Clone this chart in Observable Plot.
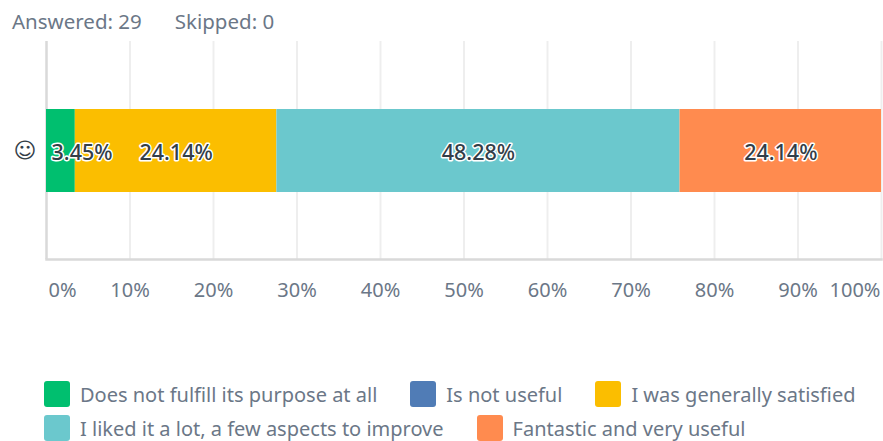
<!DOCTYPE html>
<html>
<head>
<meta charset="utf-8">
<script src="https://cdn.jsdelivr.net/npm/d3@7"></script>
<script src="https://cdn.jsdelivr.net/npm/@observablehq/plot@0.6"></script>
<style>
  html, body { margin: 0; padding: 0; background: #fff; overflow: hidden; }
  body { width: 883px; height: 441px; font-family: "Noto Sans", sans-serif; color: #6b7787; }
  #summary { height: 39px; box-sizing: border-box; padding: 8px 0 0 12px; font-size: 20.5px; line-height: 26px; display: flex; gap: 33px; }
  #chart svg { display: block; }
  #legend { margin: 38px 0 0 44px; width: 839px; display: flex; flex-wrap: wrap; column-gap: 33px; font-size: 20px; }
  .entry { display: flex; align-items: center; height: 34px; gap: 10px; white-space: nowrap; }
  .swatch { width: 26px; height: 26px; border-radius: 3px; }
</style>
</head>
<body>
<div id="summary"></div>
<div id="chart"></div>
<div id="legend"></div>
<script>
const summary = ["Answered: 29", "Skipped: 0"];
const question = "☺";
const categories = [
  "Does not fulfill its purpose at all",
  "Is not useful",
  "I was generally satisfied",
  "I liked it a lot, a few aspects to improve",
  "Fantastic and very useful"
];
const percents = [3.45, 0, 24.14, 48.28, 24.14];
const colors = ["#00bf6f", "#507cb6", "#fbbe00", "#6bc8cd", "#ff8b4f"];
const innerTicks = [10, 20, 30, 40, 50, 60, 70, 80, 90];

const rows = categories.map((category, i) => ({category, value: percents[i], question}));
const fontFamily = '"Noto Sans", sans-serif';
const pct = (d) => `${d}%`;
const ink = "#333e48";
const tickInk = "#6b7787";

// Cumulative starts, so each label can sit inside its own segment
let running = 0;
const labelled = rows.map((d) => {
  const start = running;
  running += d.value;
  return {...d, start, mid: start + d.value / 2};
}).filter((d) => d.value > 0);

const labelStyle = {
  text: (d) => `${d.value.toFixed(2)}%`,
  y: "question",
  dy: 2,
  fill: ink,
  stroke: "white",
  strokeWidth: 3,
  paintOrder: "stroke",
  fontSize: 21.5,
  fontWeight: 500
};

const edgeAxis = {anchor: "bottom", tickSize: 0, tickPadding: 23, fontSize: 20, color: tickInk, tickFormat: pct, label: null};

const plot = Plot.plot({
  width: 883,
  height: 300,
  marginLeft: 46,
  marginRight: 2,
  marginTop: 2,
  marginBottom: 80,
  style: {fontFamily, background: "transparent", overflow: "visible"},
  x: {domain: [0, 100], clamp: true},
  y: {domain: [question], padding: 0.449},
  color: {domain: categories, range: colors},
  marks: [
    Plot.ruleX(innerTicks.concat(100), {stroke: "#eeeeee", strokeWidth: 2, strokeOpacity: 1}),
    Plot.ruleX([0], {stroke: "#d9d9d9", strokeWidth: 2.5}),
    Plot.frame({anchor: "bottom", stroke: "#d9d9d9", strokeWidth: 2.5}),
    Plot.axisY({tickSize: 0, tickPadding: 10, fontSize: 22, color: ink, fontFamily: "DejaVu Sans", label: null}),
    Plot.axisX({...edgeAxis, ticks: innerTicks}),
    Plot.axisX({...edgeAxis, ticks: [0], textAnchor: "start", dx: 2}),
    Plot.axisX({...edgeAxis, ticks: [100], textAnchor: "end", dx: -1}),
    Plot.barX(rows, {x: "value", y: "question", fill: "category", order: null}),
    Plot.text(labelled.filter((d) => d.value >= 5), {...labelStyle, x: "mid"}),
    Plot.text(labelled.filter((d) => d.value < 5), {...labelStyle, x: "start", textAnchor: "start", dx: 5})
  ]
});
document.getElementById("chart").append(plot);

d3.select("#summary").selectAll("span").data(summary).join("span").text((d) => d);

const entries = d3.select("#legend").selectAll("div").data(categories).join("div").attr("class", "entry");
entries.append("span").attr("class", "swatch").style("background", (d, i) => colors[i]);
entries.append("span").text((d) => d);
</script>
</body>
</html>
